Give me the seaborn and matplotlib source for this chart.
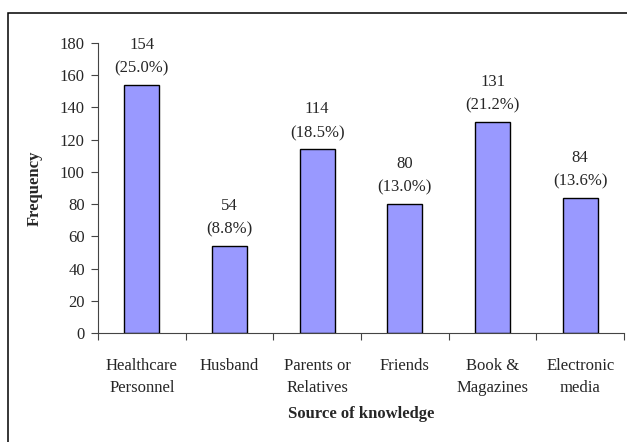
import pandas as pd
import matplotlib
matplotlib.use("Agg")
import matplotlib.pyplot as plt
import matplotlib.patches as mpatches
import seaborn as sns

SOURCES = ["Healthcare\nPersonnel", "Husband", "Parents or\nRelatives",
           "Friends", "Book &\nMagazines", "Electronic\nmedia"]
COUNTS = [154, 54, 114, 80, 131, 84]
PERCENTS = [25.0, 8.8, 18.5, 13.0, 21.2, 13.6]
Y_TICKS = list(range(0, 181, 20))

BAR_COLOR = "#9999FF"
FS = 12

sns.set_style("white")
plt.rcParams["font.family"] = ["Liberation Serif", "DejaVu Serif"]
plt.rcParams["font.size"] = FS

df = pd.DataFrame({"source": SOURCES, "count": COUNTS})

fig = plt.figure(figsize=(6.27, 4.42), dpi=100)
ax = fig.add_axes([98 / 627, 1 - 333 / 442, (624 - 98) / 627, (333 - 43) / 442])

sns.barplot(data=df, x="source", y="count", color=BAR_COLOR,
            edgecolor="black", linewidth=1.0, width=0.4, saturation=1, ax=ax)

labels = [f"{c}\n({p:.1f}%)" for c, p in zip(COUNTS, PERCENTS)]
ax.bar_label(ax.containers[0], labels=labels, padding=6, linespacing=1.65,
             fontsize=FS)

ax.set_ylim(0, 180)
ax.set_yticks(Y_TICKS)
ax.set_xlim(-0.5, len(SOURCES) - 0.5)

# ticks between categories, labels under the centres
ax.set_xticks([i - 0.5 for i in range(len(SOURCES) + 1)])
ax.set_xticklabels([])
ax.set_xticks(range(len(SOURCES)), minor=True)
ax.set_xticklabels(SOURCES, minor=True, linespacing=1.5)
ax.tick_params(axis="x", which="minor", length=0, pad=18, labelsize=FS)
ax.tick_params(axis="x", which="major", length=5, width=0.8, direction="out",
               bottom=True, color="#444444")
ax.tick_params(axis="y", length=5, width=0.8, direction="out", left=True,
               color="#444444", labelsize=FS, pad=4.5)

for side in ["top", "right"]:
    ax.spines[side].set_visible(False)
for side in ["left", "bottom"]:
    ax.spines[side].set_color("#444444")
    ax.spines[side].set_linewidth(0.8)

ax.set_xlabel("Source of knowledge", fontweight="bold", fontsize=FS,
              labelpad=7)
ax.set_ylabel("Frequency", fontweight="bold", fontsize=FS, labelpad=12)

# outer chart-area border, cut by the image edge on the right and bottom
fig.add_artist(mpatches.Rectangle((8 / 627, -0.1), 1.2, 1.1 - 13 / 442,
                                  transform=fig.transFigure, fill=False,
                                  edgecolor="black", linewidth=1.1,
                                  clip_on=False))

fig.savefig("out.png", dpi=100)
